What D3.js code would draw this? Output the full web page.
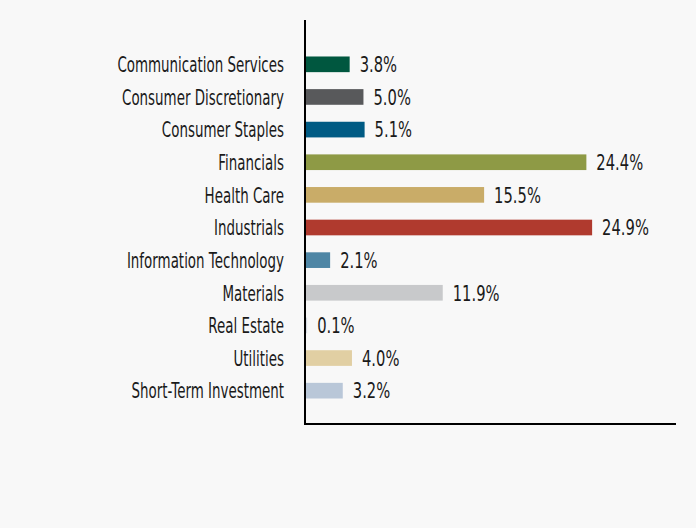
<!DOCTYPE html>
<html><head><meta charset="utf-8">
<script src="https://cdn.jsdelivr.net/npm/d3@7/dist/d3.min.js"></script>
<style>html,body{margin:0;padding:0;background:#f8f8f8;}svg{display:block;}</style>
</head><body>
<svg id="chart" width="696" height="528"></svg>
<script>
const categories = ["Communication Services","Consumer Discretionary","Consumer Staples","Financials","Health Care","Industrials","Information Technology","Materials","Real Estate","Utilities","Short-Term Investment"];
const values = [3.8,5.0,5.1,24.4,15.5,24.9,2.1,11.9,0.1,4.0,3.2];
const labels = ["3.8%","5.0%","5.1%","24.4%","15.5%","24.9%","2.1%","11.9%","0.1%","4.0%","3.2%"];
const colors = ["#00573f","#58595b","#005b84","#8e9a45","#c9ac68","#b03a2e","#4e86a5","#c8c9cb","#d5dbe3","#e1cfa3","#b9c7d8"];

const svg = d3.select("#chart");
svg.append("rect").attr("width",696).attr("height",528).attr("fill","#f8f8f8");
const x = d3.scaleLinear().domain([0,32.2]).range([306,676]);
const y = d3.scaleBand().domain(categories).range([48,407]).paddingInner(0.52).paddingOuter(0.26);
const font = "'DejaVu Sans',sans-serif";

svg.append("g").selectAll("rect").data(categories).join("rect")
  .attr("x",x(0)).attr("y",d=>y(d)).attr("height",y.bandwidth())
  .attr("width",(d,i)=>x(values[i])-x(0)).attr("fill",(d,i)=>colors[i]);

svg.append("g").selectAll("text").data(categories).join("text")
  .attr("transform",(d,i)=>`translate(${x(values[i])+10},${y(d)+y.bandwidth()/2+7.8}) scale(0.67,1)`)
  .attr("font-family",font).attr("font-size",22).attr("fill","#1a1a1a")
  .text((d,i)=>labels[i]);

svg.append("g").selectAll("text").data(categories).join("text")
  .attr("transform",d=>`translate(284,${y(d)+y.bandwidth()/2+7.8}) scale(0.61,1)`)
  .attr("text-anchor","end")
  .attr("font-family",font).attr("font-size",22).attr("fill","#1a1a1a")
  .text(d=>d);

svg.append("line").attr("x1",305).attr("x2",305).attr("y1",20).attr("y2",425).attr("stroke","#000").attr("stroke-width",2);
svg.append("line").attr("x1",304).attr("x2",676).attr("y1",424).attr("y2",424).attr("stroke","#000").attr("stroke-width",2);
</script>
</body></html>
